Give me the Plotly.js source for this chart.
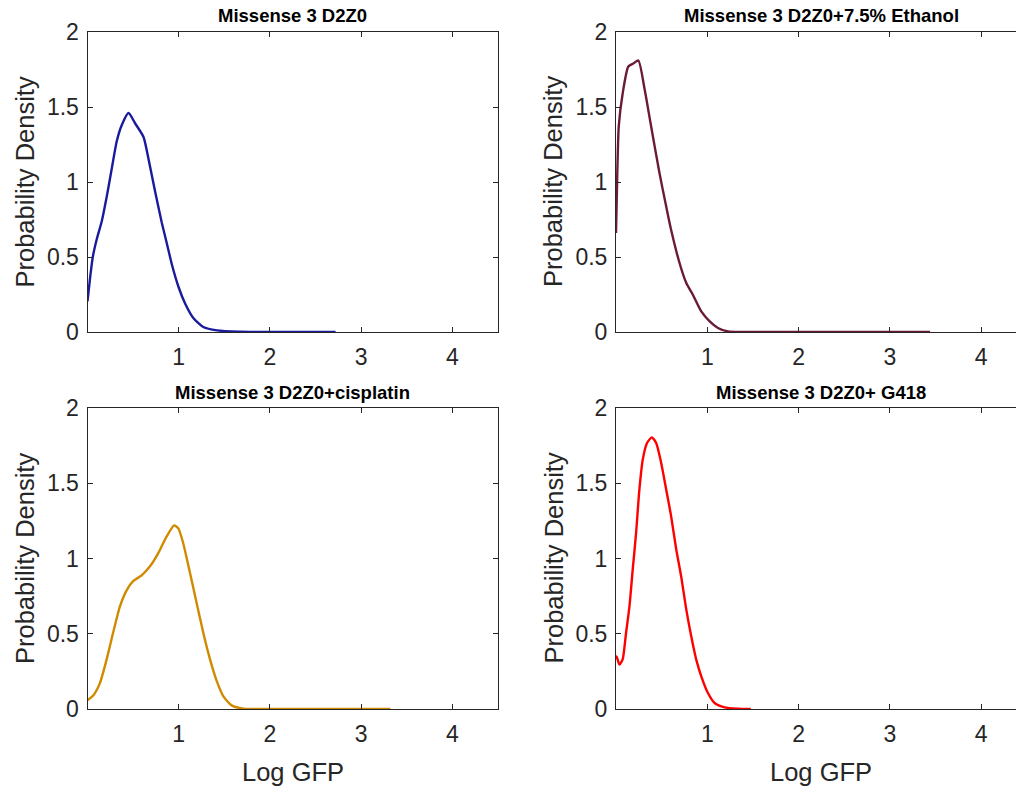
<!DOCTYPE html>
<html>
<head>
<meta charset="utf-8">
<script src="https://cdn.plot.ly/plotly-3.0.1.min.js"></script>
<style>html,body{margin:0;padding:0;background:#fff;}#chart{width:1016px;height:786px;}</style>
</head>
<body>
<div id="chart"></div>
<script>
// ---- data ----
const titles = ["Missense 3 D2Z0", "Missense 3 D2Z0+7.5% Ethanol", "Missense 3 D2Z0+cisplatin", "Missense 3 D2Z0+ G418"];
const colors = ["#1a1a9c", "#6b1a3a", "#d08a00", "#ff0000"];

const d2z0_x = [0, 0.03, 0.058, 0.10, 0.157, 0.21, 0.267, 0.32, 0.376, 0.45, 0.523, 0.614, 0.67, 0.74, 0.815, 0.87, 0.925, 0.998, 1.07, 1.16, 1.27, 1.42, 1.67, 1.97, 2.72];
const d2z0_y = [0.204, 0.37, 0.50, 0.615, 0.74, 0.90, 1.093, 1.27, 1.38, 1.46, 1.39, 1.30, 1.15, 0.94, 0.727, 0.59, 0.45, 0.30, 0.19, 0.093, 0.033, 0.011, 0.002, 0, 0];

const eth_x = [0, 0.011, 0.03, 0.073, 0.135, 0.19, 0.245, 0.31, 0.385, 0.476, 0.55, 0.604, 0.696, 0.77, 0.842, 0.934, 1.026, 1.117, 1.227, 1.37, 3.44];
const eth_y = [0.66, 0.97, 1.37, 1.59, 1.77, 1.79, 1.81, 1.63, 1.37, 1.06, 0.836, 0.68, 0.46, 0.326, 0.248, 0.137, 0.071, 0.027, 0.004, 0, 0];

const cis_x = [0, 0.062, 0.135, 0.21, 0.28, 0.355, 0.43, 0.50, 0.59, 0.685, 0.776, 0.868, 0.95, 0.996, 1.05, 1.125, 1.198, 1.27, 1.344, 1.418, 1.49, 1.58, 1.71, 1.97, 3.32];
const cis_y = [0.058, 0.089, 0.17, 0.33, 0.505, 0.68, 0.79, 0.85, 0.886, 0.948, 1.036, 1.147, 1.22, 1.20, 1.10, 0.90, 0.70, 0.505, 0.328, 0.184, 0.084, 0.024, 0.002, 0, 0];

const g418_x = [0, 0.007, 0.037, 0.073, 0.11, 0.147, 0.183, 0.22, 0.256, 0.293, 0.34, 0.392, 0.44, 0.495, 0.55, 0.604, 0.66, 0.714, 0.77, 0.824, 0.879, 0.934, 1.007, 1.08, 1.19, 1.337, 1.476];
const g418_y = [0.33, 0.35, 0.295, 0.33, 0.505, 0.68, 0.926, 1.17, 1.457, 1.657, 1.767, 1.805, 1.767, 1.635, 1.457, 1.28, 1.059, 0.88, 0.66, 0.483, 0.328, 0.217, 0.106, 0.04, 0.011, 0.002, 0];

const xTickVals = [1, 2, 3, 4];
const xTickText = ["1", "2", "3", "4"];
const yTickVals = [0, 0.5, 1, 1.5, 2];
const yTickText = ["0", "0.5", "1", "1.5", "2"];
const xLabel = "Log GFP";
const yLabel = "Probability Density";

// ---- layout ----
const W = 1016, H = 786;
const txt = "#262626";
const FONT = "Liberation Sans, Arial, sans-serif";
const series = [[d2z0_x, d2z0_y], [eth_x, eth_y], [cis_x, cis_y], [g418_x, g418_y]];
// pixel boxes: [left, right, top, bottom]
const boxes = [[87.5, 498, 32, 332], [616, 1016, 32, 332], [87.5, 498, 408, 709], [616, 1016, 408, 709]];
const xMax = [4.5, (1016 - 616) / 91.3, 4.5, (1016 - 616) / 91.3];

const traces = [];
const layout = {
  width: W, height: H,
  margin: {l: 0, r: 0, t: 0, b: 0},
  paper_bgcolor: "#fff", plot_bgcolor: "#fff",
  showlegend: false,
  font: {family: FONT, color: txt},
  annotations: []
};

for (let i = 0; i < 4; i++) {
  const n = i + 1;
  const xa = "x" + (n === 1 ? "" : n), ya = "y" + (n === 1 ? "" : n);
  const xk = "xaxis" + (n === 1 ? "" : n), yk = "yaxis" + (n === 1 ? "" : n);
  const [L, R, T, B] = boxes[i];
  traces.push({
    x: series[i][0], y: series[i][1], type: "scatter", mode: "lines",
    line: {color: colors[i], width: 2.4, shape: "spline", smoothing: 0.6},
    xaxis: xa, yaxis: ya, hoverinfo: "skip"
  });
  const right = (i % 2 === 1);
  layout[xk] = {
    domain: [L / W, R / W], anchor: ya, range: [0, xMax[i]],
    tickvals: xTickVals, ticktext: xTickText,
    ticks: "inside", ticklen: 5, tickcolor: txt, tickwidth: 1,
    showline: true, linecolor: txt, linewidth: 1, mirror: "ticks",
    showgrid: false, zeroline: false,
    tickfont: {size: 23, color: txt, family: FONT},
    ticklabelstandoff: 4,
    fixedrange: true
  };
  layout[yk] = {
    domain: [1 - B / H, 1 - T / H], anchor: xa, range: [0, 2],
    tickvals: yTickVals, ticktext: yTickText,
    ticks: "inside", ticklen: 5, tickcolor: txt, tickwidth: 1,
    showline: true, linecolor: txt, linewidth: 1, mirror: right ? false : "ticks",
    showgrid: false, zeroline: false,
    tickfont: {size: 23, color: txt, family: FONT},
    ticklabelstandoff: 3,
    fixedrange: true
  };
  // subplot title
  const fullR = right ? 616 + 4.5 * 91.3 : R;
  layout.annotations.push({
    text: "<b>" + titles[i] + "</b>", xref: "paper", yref: "paper",
    x: ((L + fullR) / 2) / W, y: 1 - (T - 16) / H, xanchor: "center", yanchor: "middle",
    showarrow: false, font: {size: 18.5, color: "#000", family: FONT}
  });
  // y title
  layout.annotations.push({
    text: yLabel, xref: "paper", yref: "paper",
    x: (L - 63) / W, y: 1 - ((T + B) / 2) / H, xanchor: "center", yanchor: "middle",
    textangle: -90, showarrow: false, font: {size: 25.5, color: txt, family: FONT}
  });
  if (i >= 2) {
    layout.annotations.push({
      text: xLabel, xref: "paper", yref: "paper",
      x: ((L + fullR) / 2) / W, y: 1 - 772 / H, xanchor: "center", yanchor: "middle",
      showarrow: false, font: {size: 25.5, color: txt, family: FONT}
    });
  }
}

Plotly.newPlot("chart", traces, layout, {displayModeBar: false, staticPlot: true});
</script>
</body>
</html>
